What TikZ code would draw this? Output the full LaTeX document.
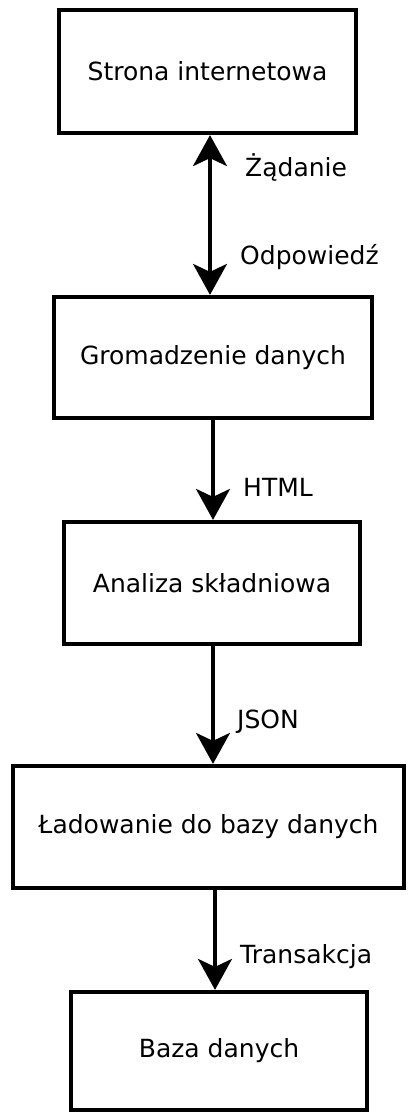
\documentclass[tikz,border=0pt]{standalone}
\usepackage{fontspec}
\setmainfont{DejaVu Sans}
\usepackage{tikz}
\usetikzlibrary{arrows.meta,shapes}
\tikzstyle{block}=[rectangle, draw
,line width=4.2pt
,inner sep=0pt
,font=\fontsize{25}{30}\selectfont
]
\tikzstyle{tag}=[anchor=west, inner sep=0pt, font=\fontsize{25}{30}\selectfont]
\tikzstyle{tip}=[-{Stealth[length=31pt, width=34pt, inset=8pt]}]
\tikzstyle{link} = [draw, line width=3.2pt, tip]

\begin{document}
\begin{tikzpicture}[x=1pt, y=-1pt]
    \useasboundingbox (0,0) rectangle (407,1113);
    % Draw the pipeline
    % First we draw the boxes
    \foreach \pos/\name/\w/\h/\txt in {{(207.5,71.5)/web/297/123/Strona internetowa},
        {(213,357.5)/collect/318/121/Gromadzenie danych},
        {(212,583)/parse/296/122/Analiza składniowa},
        {(208.5,827)/load/391/122/Ładowanie do bazy danych},
        {(219,1051)/db/296/118/Baza danych}}
        \node[block, minimum width=\w pt, minimum height=\h pt] (\name) at \pos {\txt};

    % Labels next to the arrows
    \node[tag] (req) at (245,167) {Żądanie};
    \node[tag] (resp) at (240,257) {Odpowiedź};
    \node[tag] (html) at (243,487) {HTML};
    \node[tag] (json) at (237,722) {JSON};
    \node[tag] (tx) at (240,957) {Transakcja};

    % Connect boxes with arrows
    \path[link, {Stealth[length=31pt, width=34pt, inset=8pt]}-{Stealth[length=31pt, width=34pt, inset=8pt]}]
        ([xshift=2.5pt]web.south) -- ([xshift=2.5pt]web.south |- collect.north);
    \foreach \source/\dest/\dx in {collect/parse/0, parse/load/1, load/db/6.5}
        \path[link] ([xshift=\dx pt]\source.south) -- ([xshift=\dx pt]\source.south |- \dest.north);
\end{tikzpicture}
\end{document}
